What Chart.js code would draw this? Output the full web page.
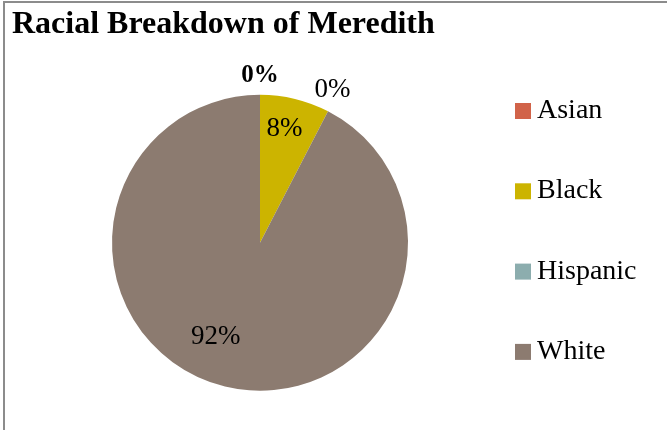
<!DOCTYPE html>
<html>
<head>
<meta charset="utf-8">
<script src="https://cdn.jsdelivr.net/npm/chart.js@4.4.1/dist/chart.umd.min.js"></script>
<style>
  html, body { margin: 0; padding: 0; background: #fff; }
  #wrap { position: relative; width: 667px; height: 430px; overflow: hidden; }
  #frame { position: absolute; left: 3px; top: 1px; right: -10px; bottom: -10px;
           border-left: 2px solid #8c8c8c; border-top: 2px solid #8c8c8c; }
  canvas { position: absolute; left: 0; top: 0; }
</style>
</head>
<body>
<div id="wrap">
  <div id="frame"></div>
  <canvas id="pie" width="667" height="430"></canvas>
</div>
<script>
const races = ['Asian', 'Black', 'Hispanic', 'White'];
const shares = [0, 7.6, 0, 92.4];
const colors = ['#d16349', '#ccb400', '#8cadae', '#8c7b70'];

const FONT = '"Liberation Serif", "DejaVu Serif", serif';

// percent labels, placed along each slice's middle angle
const pctLabels = {
  id: 'pctLabels',
  afterDatasetsDraw(chart, args, opts) {
    const ctx = chart.ctx;
    const data = chart.data.datasets[0].data;
    const total = data.reduce((s, v) => s + v, 0);
    chart.getDatasetMeta(0).data.forEach((arc, i) => {
      const p = arc.getProps(['x', 'y', 'startAngle', 'endAngle', 'outerRadius'], true);
      const a = (p.startAngle + p.endAngle) / 2 + opts.turn[i] * Math.PI / 180;
      const r = p.outerRadius * opts.dist[i];
      ctx.save();
      ctx.font = (opts.bold[i] ? 'bold ' : '') + opts.size[i] + 'px ' + FONT;
      ctx.fillStyle = '#000';
      ctx.textAlign = 'center';
      ctx.textBaseline = 'middle';
      ctx.fillText(Math.round(data[i] / total * 100) + '%', p.x + Math.cos(a) * r, p.y + Math.sin(a) * r);
      ctx.restore();
    });
  }
};

// widely spaced legend on the right
const sideLegend = {
  id: 'sideLegend',
  afterDraw(chart, args, opts) {
    const ctx = chart.ctx;
    const ds = chart.data.datasets[0];
    ctx.save();
    chart.data.labels.forEach((lab, i) => {
      const base = opts.top + i * opts.step;
      ctx.fillStyle = ds.backgroundColor[i];
      ctx.fillRect(opts.x, base + 1 - opts.box, opts.box, opts.box);
      ctx.fillStyle = '#000';
      ctx.font = opts.size + 'px ' + FONT;
      ctx.textAlign = 'left';
      ctx.textBaseline = 'alphabetic';
      ctx.fillText(lab, opts.x + opts.box + 6, base);
    });
    ctx.restore();
  }
};

new Chart(document.getElementById('pie'), {
  type: 'pie',
  data: {
    labels: races,
    datasets: [{
      data: shares,
      backgroundColor: colors,
      borderWidth: 0,
      radius: 148
    }]
  },
  options: {
    responsive: false,
    animation: false,
    layout: { padding: { left: 12, right: 159, top: 0, bottom: 0 } },
    plugins: {
      title: {
        display: true,
        text: 'Racial Breakdown of Meredith',
        align: 'start',
        color: '#000',
        font: { family: FONT, size: 32, weight: 'bold' },
        padding: { top: 6, bottom: 11.1 }
      },
      legend: { display: false },
      tooltip: { enabled: false },
      pctLabels: {
        dist: [1.127, 0.787, 1.143, 0.70],
        turn: [0, -1.6, -2, 11.6],
        size: [25, 27, 27, 27],
        bold: [true, false, false, false]
      },
      sideLegend: { x: 515, top: 118, step: 80.3, box: 16, size: 28 }
    }
  },
  plugins: [pctLabels, sideLegend]
});
</script>
</body>
</html>
